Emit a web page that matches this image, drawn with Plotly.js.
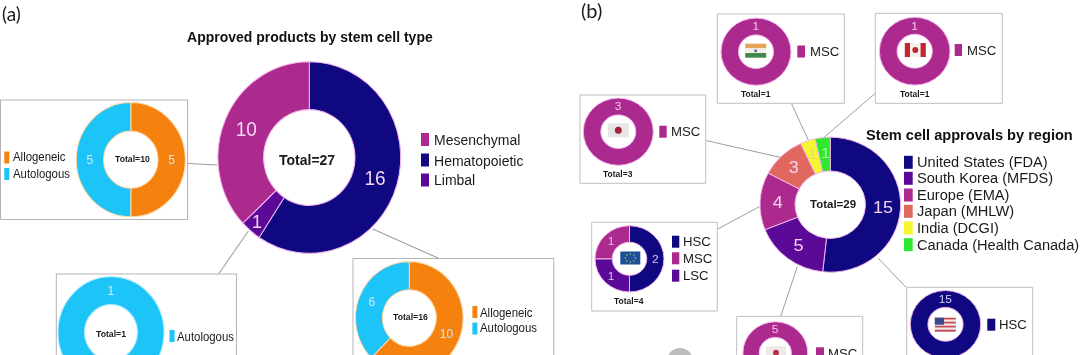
<!DOCTYPE html>
<html><head><meta charset="utf-8">
<script src="https://cdn.plot.ly/plotly-3.0.1.min.js"></script>
<style>
html,body{margin:0;padding:0;width:1080px;height:355px;overflow:hidden;background:#fff}
#stage{position:relative;width:1080px;height:355px;overflow:hidden;background:#fff;filter:blur(0.35px)}
.panel{position:absolute;top:0;transform-origin:0 0}
</style></head><body>
<div id="stage"><div id="pa" class="panel"></div><div id="pb" class="panel"></div></div>
<script>
// ---------- data ----------
const cellTypes = ['Hematopoietic','Limbal','Mesenchymal'];
const cellTypeValues = [16,1,10];
const mesenchymalLabels = ['Allogeneic','Autologous'];
const mesenchymalValues = [5,5];
const hematoLabels = ['Allogeneic','Autologous'];
const hematoValues = [10,6];
const limbalLabels = ['Autologous'];
const limbalValues = [1];
const regions = ['United States (FDA)','South Korea (MFDS)','Europe (EMA)','Japan (MHLW)','India (DCGI)','Canada (Health Canada)'];
const regionValues = [15,5,4,3,1,1];
const euLabels = ['HSC','LSC','MSC'];
const euValues = [2,1,1];

// ---------- colours ----------
const NAVY='#100880', MAG='#ac2a8e', PUR='#5a0a96', ORG='#f5820f', SKY='#1cc4f8',
      SAL='#e0685f', YEL='#f5f532', GRN='#2ee82e', EDGE='#f3b5ee';
const SANS='"Liberation Sans",Arial,sans-serif';

function makePanel(id,left,width,sy,localH){
  const P={id,left,width,sy,H:localH,traces:[],shapes:[],ann:[]};
  P.X=x=>(x-left)/width;
  P.Y=y=>1-(y/sy)/localH;
  P.donut=(labels,values,colors,cx,cy,r,fs,tc,edge,rot,opts={})=>{
    const ly=cy/sy;
    P.traces.push({type:'pie',labels,values,sort:false,direction:'clockwise',rotation:rot||0,hole:0.5,
      domain:{x:[(cx-r-left)/width,(cx+r-left)/width],y:[1-(ly+r)/localH,1-(ly-r)/localH]},
      marker:{colors,line:{color:edge||EDGE,width:1}},
      textinfo:'value',textposition:opts.pos||'inside',insidetextorientation:opts.orient||'horizontal',
      textfont:{family:SANS,size:fs,color:tc},showlegend:false,hoverinfo:'label+value'});
  };
  P.text=(x,y,t,size,o={})=>P.ann.push({xref:'paper',yref:'paper',x:P.X(x),y:P.Y(y),text:t,showarrow:false,
      xanchor:o.anchor||'left',yanchor:'middle',font:{family:o.family||SANS,size,color:o.color||'#1a1a1a'},
      borderpad:0,borderwidth:0});
  P.rect=(x0,y0,x1,y1,fill,line,layer,lw)=>P.shapes.push({type:'rect',xref:'paper',yref:'paper',x0:P.X(x0),x1:P.X(x1),y0:P.Y(y0),y1:P.Y(y1),
      fillcolor:fill||'rgba(0,0,0,0)',line:{color:line||'rgba(0,0,0,0)',width:line?(lw||1):0},layer:layer||'below'});
  P.line=(x0,y0,x1,y1)=>P.shapes.push({type:'line',xref:'paper',yref:'paper',x0:P.X(x0),x1:P.X(x1),y0:P.Y(y0),y1:P.Y(y1),line:{color:'#9c9c9c',width:1},layer:'below'});
  P.circle=(cx,cy,rx,ry,fill,layer)=>P.shapes.push({type:'circle',xref:'paper',yref:'paper',x0:P.X(cx-rx),x1:P.X(cx+rx),y0:P.Y(cy-ry),y1:P.Y(cy+ry),fillcolor:fill,line:{width:0},layer:layer||'above'});
  P.legend=(sx0,sx1,tx,items,size,sh)=>items.forEach(([label,cy,col])=>{
      P.rect(sx0,cy-sh/2,sx1,cy+sh/2,col,null,'above');
      P.text(tx,cy,label,size);
  });
  P.draw=()=>{
    const el=document.getElementById(id);
    el.style.left=left+'px'; el.style.width=width+'px'; el.style.height=localH+'px';
    el.style.transform='scaleY('+sy+')';
    return Plotly.newPlot(el,P.traces,{width,height:localH,margin:{l:0,r:0,t:0,b:0},paper_bgcolor:'rgba(0,0,0,0)',plot_bgcolor:'rgba(0,0,0,0)',
      showlegend:false,shapes:P.shapes,annotations:P.ann},{displayModeBar:false,staticPlot:true});
  };
  return P;
}

// ========== panel (a) ==========
const A=makePanel('pa',0,560,1.048,420);
A.text(2,13,'(a)',19,{family:'Lato,sans-serif'});
A.text(309.5,37,'<b>Approved products by stem cell type</b>',14,{anchor:'center',color:'#111'});
A.line(187.8,163.5,217.6,165); A.line(248.4,231,218.6,274); A.line(372.8,229,439,258.5);
A.rect(0.5,100,187.5,219.5,'#fff','#b5b5b5');
A.rect(56.3,274,236.5,420,'#fff','#b5b5b5');
A.rect(353,258.5,553.8,420,'#fff','#b5b5b5');
A.donut(cellTypes,cellTypeValues,[NAVY,PUR,MAG],309.3,157.5,91.4,19,'#f4d4f4',null,0,{pos:['inside','none','inside']});
A.text(257,222,String(cellTypeValues[1]),18,{anchor:'center',color:'#f4d4f4'});
A.donut(mesenchymalLabels,mesenchymalValues,[ORG,SKY],130.8,159.7,54.5,12,'#cfe8f5','#ffd9a8');
A.donut(hematoLabels,hematoValues,[ORG,SKY],409.3,318,53.8,12,'#cfe8f5','#ffd9a8');
A.donut(limbalLabels,limbalValues,[SKY],111,332.3,53,12,'#cfeefc','#a8e8ff',180);
A.text(306.8,159.3,'<b>Total=27</b>',14,{anchor:'center'});
A.text(132.3,159,'<b>Total=10</b>',8.7,{anchor:'center'});
A.text(110.8,334,'<b>Total=1</b>',8.7,{anchor:'center'});
A.text(410,317,'<b>Total=16</b>',8.7,{anchor:'center'});
A.legend(421,429,433.7,[['Mesenchymal',139.5,MAG],['Hematopoietic',160,NAVY],['Limbal',180,PUR]],14,13);
A.legend(4.3,9.3,12.5,[['Allogeneic',157.5,ORG],['Autologous',174,SKY]],11.4,12);
A.legend(169.5,174.6,177.4,[['Autologous',336,SKY]],11.4,12);
A.legend(472.4,477.4,479.6,[['Allogeneic',312,ORG],['Autologous',328.5,SKY]],11.4,12);

// ========== panel (b) ==========
const B=makePanel('pb',560,520,0.96,400);
B.text(581,11,'(b)',20,{family:'Lato,sans-serif'});
B.line(791.7,104,808.3,140); B.line(875.3,93.3,824,137.3); B.line(706.7,140.7,780,157.3);
B.line(717.3,229.3,759.3,206.7); B.line(780.7,316.3,797.3,266.7); B.line(906,287.3,878.3,258.3);
[[717.3,14,844.3,103.3],[875.3,13.3,1002.3,103.3],[580,95,705.7,183.3],[591.7,222.3,717.3,311],[736.7,316.3,862.7,380],[906.7,287.3,1032.7,380]]
  .forEach(b=>B.rect(b[0],b[1],b[2],b[3],'#fff','#bdbdbd'));
B.donut(regions,regionValues,[NAVY,PUR,MAG,SAL,YEL,GRN],830.3,204.7,70.3,18,'#f4d4f4',null,0,{pos:['inside','inside','inside','inside','none','none']});
B.text(812,154,String(regionValues[4]),16,{anchor:'center',color:'#e2e25a'});
B.text(825,153,String(regionValues[5]),16,{anchor:'center',color:'#b6f5b6'});
B.donut(['MSC'],[1],[MAG],756,51.7,35,12,'#f6c6ee',null,180);
B.donut(['MSC'],[1],[MAG],914.7,51.2,35.3,12,'#f6c6ee',null,180);
B.donut(['MSC'],[3],[MAG],618.3,131.7,35,12,'#f6c6ee',null,180);
B.donut(euLabels,euValues,[NAVY,PUR,MAG],629.5,258.8,34.5,12,'#d8c4f4');
B.donut(['MSC'],[5],[MAG],775.3,355.7,35.3,12,'#f6c6ee',null,180);
B.donut(['HSC'],[15],[NAVY],945.5,324.3,35.2,12,'#d8d4f8',null,180,{orient:'tangential'});
B.text(833.3,204.3,'<b>Total=29</b>',11.5,{anchor:'center'});
B.text(969.5,135,'<b>Stem cell approvals by region</b>',14.6,{anchor:'center',color:'#111'});
B.legend(904,912.7,917,regions.map((r,i)=>[r,[162.3,178.3,195,211.3,228,244.7][i],[NAVY,PUR,MAG,SAL,YEL,GRN][i]]),14.6,13);
B.legend(797.3,805,809.7,[['MSC',51.5,MAG]],13.2,12);
B.legend(954.7,962,966.7,[['MSC',50,MAG]],13.2,12);
B.legend(659.3,666.7,671,[['MSC',131.7,MAG]],13.2,12);
B.legend(672,679.3,683.3,[['HSC',241.7,NAVY],['MSC',258.3,MAG],['LSC',275.7,PUR]],13.2,12);
B.legend(816,824,828,[['MSC',353.3,MAG]],13.2,12);
B.legend(987.3,995.3,999.3,[['HSC',324.7,NAVY]],13.2,12);
B.text(755.7,93.7,'<b>Total=1</b>',8.5,{anchor:'center'});
B.text(915,93.7,'<b>Total=1</b>',8.5,{anchor:'center'});
B.text(618.3,173.7,'<b>Total=3</b>',8.5,{anchor:'center'});
B.text(629.3,301,'<b>Total=4</b>',8.5,{anchor:'center'});

// small flags in the donut holes
function flag(cx,cy,w,h,bands){bands.forEach((c,i)=>{
  const v=bands.vertical;
  if(v) B.rect(cx-w/2+w*i/bands.length,cy-h/2,cx-w/2+w*(i+1)/bands.length,cy+h/2,c,null,'above');
  else  B.rect(cx-w/2,cy-h/2+h*i/bands.length,cx+w/2,cy-h/2+h*(i+1)/bands.length,c,null,'above');
});}
flag(755.7,50.7,21,14,['#e8a35a','#f2efe6','#3f8a4a']); B.circle(755.7,50.7,1.5,1.5,'#5a6aa0');
const ca=['#c0272d','#f6f0ee','#f6f0ee','#c0272d']; ca.vertical=true; flag(915.3,50,21,14,ca); B.circle(915.3,50,3,3,'#c0272d');
flag(618.3,130.3,21,14,['#e6e6e6']); B.circle(618.3,130.3,3.5,3.5,'#a8203a');
flag(630.3,258,20,13,['#1c4f96']);
[[-5,0],[5,0],[0,-4],[0,4],[-3.5,-3],[3.5,-3],[-3.5,3],[3.5,3]].forEach(d=>B.circle(630.3+d[0],258+d[1],.7,.7,'#d8c860'));
flag(945.3,324.7,21,14,['#c44a55','#efe6e6','#c44a55','#efe6e6','#c44a55','#efe6e6','#c44a55']); B.rect(934.8,317.7,944,324.7,'#3a4a8c',null,'above');
flag(776,352.7,20,13,['#eeeaea']); B.circle(776,352.7,3,3,'#b8304a');
B.circle(680,361,13,13,'#bdbdbd');

Promise.all([A.draw(),B.draw()]);
</script></body></html>
